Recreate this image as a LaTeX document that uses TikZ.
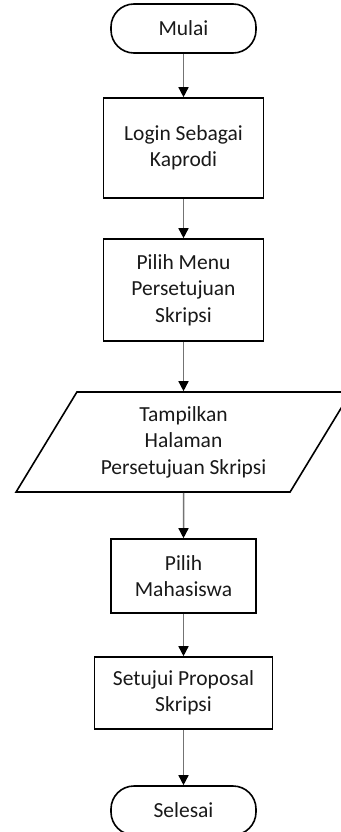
\documentclass[tikz,border=0pt]{standalone}
\usepackage{fontspec}
\setmainfont{Carlito}
\usetikzlibrary{arrows.meta,shapes.geometric}
\begin{document}
\begin{tikzpicture}[x=1pt,y=-1pt,
  base/.style={draw=black,line width=1.6pt,align=center,inner sep=0pt,
    font=\fontsize{21.5}{26.5}\selectfont,text=black!90},
  term/.style={base,rounded corners=23pt,minimum width=145pt,minimum height=49pt},
  proc/.style={base,rectangle},
  io/.style={base,trapezium,trapezium left angle=56.6,trapezium right angle=123.4,
    trapezium stretches=true,minimum width=335pt,minimum height=100pt},
  flow/.style={draw=black!55,line width=1.5pt,-{Triangle[width=10pt,length=10pt,fill=black,color=black]}}]
\useasboundingbox (0,0) rectangle (340,832);
\node[term] (mulai) at (183.5,28.5) {Mulai};
\node[proc,minimum width=160pt,minimum height=100pt] (login) at (183.5,148) {Login Sebagai\\Kaprodi};
\node[proc,minimum width=160pt,minimum height=102pt] (menu) at (183.5,290) {Pilih Menu\\Persetujuan\\Skripsi};
\node[io] (tampil) at (183.5,442) {Tampilkan\\Halaman\\Persetujuan Skripsi};
\node[proc,minimum width=145pt,minimum height=74pt] (mhs) at (183.5,576) {Pilih\\Mahasiswa};
\node[proc,minimum width=178pt,minimum height=72pt] (setuju) at (183.5,693) {Setujui Proposal\\Skripsi};
\node[term] (selesai) at (183.5,810.5) {Selesai};
\draw[flow] (mulai) -- (login);
\draw[flow] (login) -- (menu);
\draw[flow] (menu) -- (tampil);
\draw[flow] (tampil) -- (mhs);
\draw[flow] (mhs) -- (setuju);
\draw[flow] (setuju) -- (selesai);
\end{tikzpicture}
\end{document}
